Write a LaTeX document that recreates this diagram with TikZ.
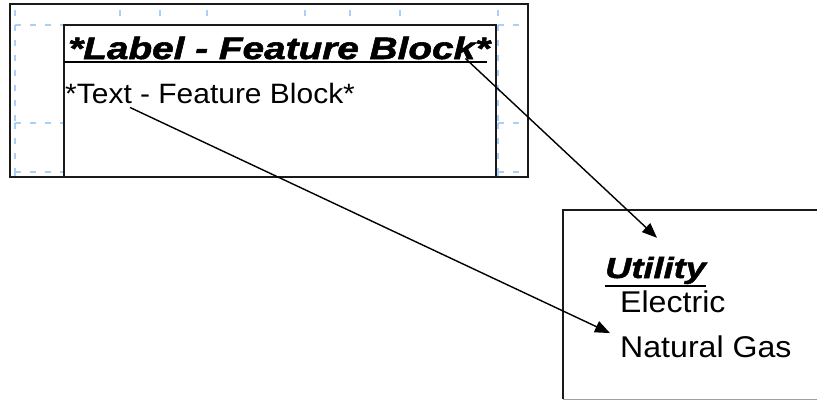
\documentclass[tikz,border=0pt]{standalone}
\usepackage{fontspec}
\usetikzlibrary{arrows.meta}
\newfontfamily\headfont[FakeStretch=1.25,FakeBold=1.8]{Liberation Sans}
\newfontfamily\bodyfont[FakeStretch=1.07]{Liberation Sans}
\definecolor{guide}{HTML}{A8D0F8}
\definecolor{frame}{HTML}{1A1A1A}
\definecolor{edge}{HTML}{A0A0A0}

\begin{document}
\begin{tikzpicture}[x=1pt,y=-1pt,
  guideline/.style={guide,line width=1.5pt,dash pattern=on 6pt off 9pt},
  boxline/.style={frame,line width=2pt},
  underline/.style={black,line width=2.5pt},
  pointer/.style={black,line width=1.4pt,-{Triangle[length=15pt,width=12pt]}},
  headtext/.style={inner sep=0pt,font=\headfont\bfseries\itshape\fontsize{31pt}{31pt}\selectfont},
  subhead/.style={inner sep=0pt,font=\headfont\bfseries\itshape\fontsize{29pt}{29pt}\selectfont},
  bodytext/.style={inner sep=0pt,font=\bodyfont\fontsize{28pt}{28pt}\selectfont}]
  \clip (0,0) rectangle (817,400);

  % Layout guides
  \foreach \gx in {15,120,160,207,305,350,400,498} {
    \foreach \ya/\yb in {10/25,25/123,123/172,172/177} {
      \draw[guideline] (\gx,\ya) -- (\gx,\yb);
    }
  }
  \foreach \gy in {25,123,172} {
    \draw[guideline] (15,\gy) -- (64,\gy);
    \draw[guideline] (498,\gy) -- (528,\gy);
  }

  % Feature block
  \fill[white] (64,25) rectangle (496,177);
  \draw[boxline] (64,177) -- (64,25) -- (496,25) -- (496,177);
  \draw[boxline] (10,4) rectangle (528,177);
  \node[headtext,anchor=base west] (label) at (68,59) {*Label - Feature Block*};
  \draw[underline] ([xshift=-4pt,yshift=-2.5pt]label.south west) -- ([xshift=-3pt,yshift=-2.5pt]label.south east);
  \node[bodytext,anchor=base west] (text) at (65,103) {*Text - Feature Block*};

  % Result block
  \draw[boxline] (830,210) -- (563,210) -- (563,399);
  \draw[edge,line width=1pt] (563,399) -- (830,399);
  \node[subhead,anchor=base west] (utility) at (605,278) {Utility};
  \draw[underline] ([yshift=-2pt]utility.south west) -- ([yshift=-2pt]utility.south east);
  \node[bodytext,font=\bodyfont\fontsize{30pt}{30pt}\selectfont,anchor=base west] (electric) at (620,312) {Electric};
  \node[bodytext,font=\bodyfont\fontsize{30pt}{30pt}\selectfont,anchor=base west] (gas) at (620,357) {Natural Gas};

  % Pointers
  \draw[pointer] ([xshift=-25pt,yshift=1pt]label.south east) -- ([xshift=52pt,yshift=19pt]utility.north west);
  \draw[pointer] ([xshift=65pt,yshift=-4pt]text.south west) -- ([xshift=-10pt,yshift=2pt]gas.north west);
\end{tikzpicture}
\end{document}
